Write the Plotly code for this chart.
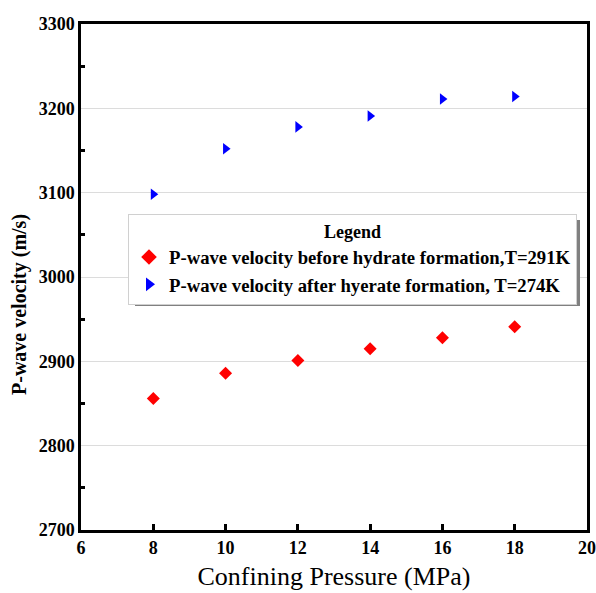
import plotly.graph_objects as go

pressure = [8, 10, 12, 14, 16, 18]
vp_before = [2856, 2886, 2901, 2915, 2928, 2941]
vp_after = [3098, 3152, 3178, 3191, 3211, 3214]

name_before = "P-wave velocity before hydrate formation,T=291K"
name_after = "P-wave velocity after hyerate formation, T=274K"

SERIF = "Times New Roman, Liberation Serif, DejaVu Serif, serif"

fig = go.Figure()
fig.add_trace(go.Scatter(x=pressure, y=vp_before, mode="markers", name=name_before,
                         marker=dict(symbol="diamond", color="#ff0000", size=10)))
fig.add_trace(go.Scatter(x=pressure, y=vp_after, mode="markers", name=name_after,
                         marker=dict(symbol="triangle-right", color="#0000ff", size=10)))

L, R, T, B = 81, 9, 24, 63
W, H = 596, 593
pw, ph = W - L - R, H - T - B

def px(x):
    return (x - L) / pw

def py(y):
    return (H - B - y) / ph

# legend shadow
fig.add_shape(type="rect", xref="paper", yref="paper",
              x0=px(135), x1=px(580), y0=py(306), y1=py(220),
              fillcolor="#808080", line=dict(width=0), layer="above")

# y axis title (placed slightly below plot centre as in the original)
fig.add_annotation(text="<b>P-wave velocity (m/s)</b>", textangle=-90,
                   xref="paper", yref="paper", x=px(19), y=py(305),
                   xanchor="center", yanchor="middle", showarrow=False,
                   font=dict(size=20, family=SERIF, color="black"))

fig.update_layout(
    width=W, height=H,
    margin=dict(l=L, r=R, t=T, b=B, autoexpand=False),
    paper_bgcolor="white", plot_bgcolor="white",
    font=dict(family=SERIF, color="black"),
    showlegend=True,
    legend=dict(
        x=px(128), y=py(214), xanchor="left", yanchor="top",
        bgcolor="white", bordercolor="#d0d0d0", borderwidth=1,
        font=dict(size=18.7, family=SERIF, weight="bold"),
        title=dict(text="<b>Legend</b>", side="top center",
                   font=dict(size=18, family=SERIF)),
        itemsizing="constant", tracegroupgap=0,
    ),
    xaxis=dict(
        range=[6, 20], dtick=2, tick0=6, automargin=False,
        showline=True, linecolor="black", linewidth=2.5, mirror=True,
        ticks="inside", ticklen=6, tickwidth=2.5, tickcolor="black",
        showgrid=False, zeroline=False,
        tickfont=dict(size=18, family=SERIF, weight="bold"),
        title=dict(text="Confining Pressure (MPa)", standoff=10,
                   font=dict(size=26, family=SERIF)),
    ),
    yaxis=dict(
        range=[2700, 3300], dtick=100, automargin=False,
        showline=True, linecolor="black", linewidth=2.5, mirror=True,
        ticks="", showgrid=True, gridcolor="#dcdcdc", gridwidth=1,
        zeroline=False,
        tickfont=dict(size=18, family=SERIF, weight="bold"),
        minor=dict(dtick=50, ticks="inside", ticklen=4, tickwidth=2.5,
                   tickcolor="black", showgrid=False),
    ),
)

fig.write_html("out.html")
